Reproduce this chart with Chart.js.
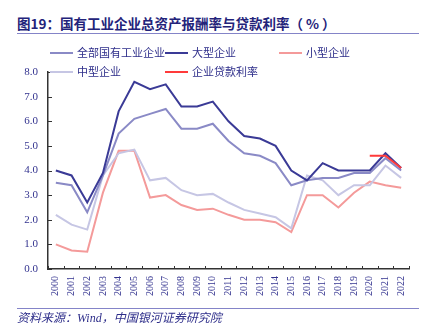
<!DOCTYPE html>
<html>
<head>
<meta charset="utf-8">
<script src="https://cdn.jsdelivr.net/npm/chart.js@4.4.1/dist/chart.umd.min.js"></script>
<style>
  body { margin: 0; background: #fff; }
  #wrap { position: relative; width: 433px; height: 334px; overflow: hidden; }
  #chart { position: absolute; left: 0; top: 0; }
  .title { position: absolute; left: 17px; top: 13px; font: bold 13.5px "Noto Sans CJK SC", sans-serif; color: #23237a; white-space: nowrap; }
  .rule { position: absolute; left: 17px; width: 402px; height: 1px; background: #8484c8; }
  .legend { position: absolute; font: 11px "Noto Sans CJK SC", sans-serif; color: #2e2e8a; white-space: nowrap; }
  .legend span.sw { display: inline-block; width: 23px; height: 2px; vertical-align: middle; margin-right: 4px; position: relative; top: -1px; }
  .source { position: absolute; left: 17px; top: 308px; font: italic 12px "Liberation Serif", "Noto Sans CJK SC", serif; color: #2e2e8a; white-space: nowrap; }
</style>
</head>
<body>
<div id="wrap">
  <div class="title">图19：国有工业企业总资产报酬率与贷款利率（ % ）</div>
  <div class="rule" style="top:33px"></div>
  <canvas id="chart" width="433" height="334"></canvas>
  <div id="legend"></div>
  <div class="rule" style="top:308px"></div>
  <div class="source">资料来源：Wind，中国银河证券研究院</div>
</div>
<script>
// categories and series
const years = ['2000','2001','2002','2003','2004','2005','2006','2007','2008','2009','2010','2011',
               '2012','2013','2014','2015','2016','2017','2018','2019','2020','2021','2022'];
const allSoe  = [3.5, 3.4, 2.3, 3.8, 5.5, 6.1, 6.3, 6.5, 5.7, 5.7, 5.9, 5.2, 4.7, 4.6, 4.3, 3.4, 3.6, 3.7, 3.7, 3.9, 3.9, 4.5, 4.0];
const large   = [4.0, 3.8, 2.7, 3.9, 6.4, 7.6, 7.3, 7.5, 6.6, 6.6, 6.8, 6.0, 5.4, 5.3, 5.0, 4.0, 3.6, 4.3, 4.0, 4.0, 4.0, 4.7, 4.1];
const small   = [1.0, 0.75, 0.7, 3.1, 4.8, 4.8, 2.9, 3.0, 2.6, 2.4, 2.45, 2.2, 2.0, 2.0, 1.9, 1.5, 3.0, 3.0, 2.5, 3.1, 3.55, 3.4, 3.3];
const medium  = [2.2, 1.8, 1.6, 3.8, 4.7, 4.85, 3.6, 3.7, 3.2, 3.0, 3.05, 2.7, 2.4, 2.25, 2.1, 1.65, 3.8, 3.6, 3.0, 3.4, 3.4, 4.2, 3.7];
const loanRate = [null, null, null, null, null, null, null, null, null, null, null, null,
                  null, null, null, null, null, null, null, null, 4.6, 4.6, 4.1];
const yTicks = [0, 1, 2, 3, 4, 5, 6, 7, 8];

const axisColor = '#333';
const labelColor = '#33338f';

// legend cells: [label, colour, left, top]
const legendItems = [
  ['全部国有工业企业', '#8a8ac6', 50, 44],
  ['大型企业', '#3a3a96', 165, 44],
  ['小型企业', '#f49a9a', 279, 44],
  ['中型企业', '#c6c6e4', 50, 63],
  ['企业贷款利率', '#ff3a3a', 165, 63]
];

document.getElementById('legend').innerHTML = legendItems.map(([name, c, l, t]) =>
  `<div class="legend" style="left:${l}px;top:${t}px"><span class="sw" style="background:${c}"></span>${name}</div>`
).join('');

function series(data, color, order) {
  return { data, borderColor: color, backgroundColor: color, borderWidth: 2, pointRadius: 0,
           tension: 0, fill: false, order, spanGaps: false };
}

// short tick marks pointing into the plot, like the original
const innerTicks = {
  id: 'innerTicks',
  afterDraw(chart) {
    const { ctx, chartArea: a, scales: { x, y } } = chart;
    ctx.save();
    ctx.strokeStyle = axisColor;
    ctx.lineWidth = 1;
    ctx.beginPath();
    yTicks.forEach(v => {
      const py = Math.round(y.getPixelForValue(v)) + 0.5;
      ctx.moveTo(a.left, py);
      ctx.lineTo(a.left + 4, py);
    });
    for (let i = 0; i <= years.length; i++) {
      const px = Math.round(x.getPixelForValue(i - 0.5)) + 0.5;
      ctx.moveTo(px, a.bottom);
      ctx.lineTo(px, a.bottom - 3);
    }
    ctx.stroke();
    ctx.restore();
  }
};

new Chart(document.getElementById('chart'), {
  type: 'line',
  data: {
    labels: years,
    datasets: [
      series(allSoe, '#8a8ac6', 2),
      series(large, '#3a3a96', 1),
      series(small, '#f49a9a', 4),
      series(medium, '#c6c6e4', 3),
      series(loanRate, '#ff3a3a', 0)
    ]
  },
  options: {
    responsive: false,
    animation: false,
    layout: { padding: { top: 72, right: 24, bottom: 34, left: 0 } },
    plugins: { legend: { display: false }, tooltip: { enabled: false } },
    scales: {
      x: {
        offset: true,
        grid: { display: false, drawTicks: false },
        border: { color: axisColor, width: 1.5 },
        ticks: {
          color: labelColor, padding: 7, autoSkip: false, minRotation: 90, maxRotation: 90,
          font: { family: 'Liberation Serif', size: 10 }
        },
        afterFit(scale) { scale.height = 31; }
      },
      y: {
        min: 0, max: 8,
        grid: { display: false, drawTicks: false },
        border: { color: axisColor, width: 1.5 },
        ticks: {
          stepSize: 1, color: labelColor, padding: 10,
          font: { family: 'Liberation Serif', size: 11 },
          callback: v => v.toFixed(1)
        },
        afterFit(scale) { scale.width = 48; }
      }
    }
  },
  plugins: [innerTicks]
});
</script>
</body>
</html>
